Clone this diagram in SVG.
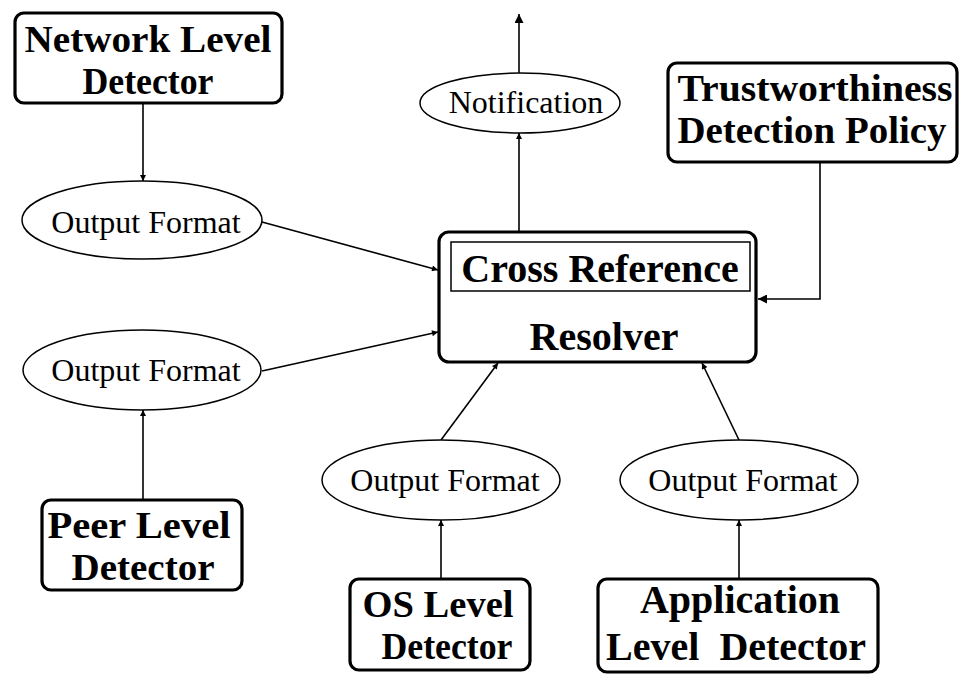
<svg xmlns="http://www.w3.org/2000/svg" width="959" height="675" viewBox="0 0 959 675">
<defs>
<style>
.box{fill:#fff;stroke:#000;stroke-width:3.2}
.inner{fill:none;stroke:#000;stroke-width:1.5}
.ell{fill:#fff;stroke:#000;stroke-width:1.5}
.bt{font-family:"Liberation Serif","Times New Roman",serif;font-weight:bold;font-size:40px;text-anchor:middle;fill:#000}
.bs{font-size:37px}
.et{font-family:"Liberation Serif","Times New Roman",serif;font-size:32px;text-anchor:middle;fill:#000}
.ln{fill:none;stroke:#000;stroke-width:1.6}
</style>
<marker id="a" viewBox="0 0 10 10" refX="10" refY="5" markerWidth="7" markerHeight="6" markerUnits="userSpaceOnUse" orient="auto"><path d="M0,0L10,5L0,10z" fill="#000"/></marker>
<marker id="b" viewBox="0 0 10 10" refX="10" refY="5" markerWidth="14" markerHeight="9" markerUnits="userSpaceOnUse" orient="auto"><path d="M0,0L10,5L0,10z" fill="#000"/></marker>
</defs>
<rect width="959" height="675" fill="#fff"/>
<g id="connectors">
<line class="ln" x1="143" y1="103" x2="143" y2="181" marker-end="url(#a)"/>
<line class="ln" x1="262" y1="222" x2="438" y2="270" marker-end="url(#a)"/>
<line class="ln" x1="262" y1="371" x2="438" y2="332" marker-end="url(#a)"/>
<line class="ln" x1="143" y1="500" x2="143" y2="410" marker-end="url(#a)"/>
<line class="ln" x1="519" y1="232" x2="519" y2="133" marker-end="url(#a)"/>
<line class="ln" x1="519" y1="73" x2="519" y2="14" marker-end="url(#b)"/>
<polyline class="ln" points="820,162 820,299 758,299" marker-end="url(#b)"/>
<line class="ln" x1="441" y1="440" x2="498" y2="363" marker-end="url(#a)"/>
<line class="ln" x1="441" y1="579" x2="441" y2="520" marker-end="url(#a)"/>
<line class="ln" x1="739" y1="440" x2="702" y2="363" marker-end="url(#a)"/>
<line class="ln" x1="739" y1="579" x2="739" y2="520" marker-end="url(#a)"/>
</g>
<g id="network">
<rect class="box" x="15" y="13" width="267" height="90" rx="9"/>
<text class="bt bs" x="148" y="52" textLength="247" lengthAdjust="spacingAndGlyphs">Network Level</text>
<text class="bt bs" x="148" y="94" textLength="131" lengthAdjust="spacingAndGlyphs">Detector</text>
</g>
<g id="of1">
<ellipse class="ell" cx="142" cy="220" rx="120" ry="39"/>
<text class="et" x="146" y="233">Output Format</text>
</g>
<g id="of2">
<ellipse class="ell" cx="142" cy="370" rx="119" ry="40"/>
<text class="et" x="146" y="381">Output Format</text>
</g>
<g id="peer">
<rect class="box" x="42" y="500" width="200" height="90" rx="9"/>
<text class="bt bs" x="139" y="538" textLength="183" lengthAdjust="spacingAndGlyphs">Peer Level</text>
<text class="bt bs" x="143" y="580" textLength="143" lengthAdjust="spacingAndGlyphs">Detector</text>
</g>
<g id="notification">
<ellipse class="ell" cx="520" cy="103" rx="100" ry="30"/>
<text class="et" x="526" y="113">Notification</text>
</g>
<g id="trust">
<rect class="box" x="668" y="63" width="289" height="99" rx="9"/>
<text class="bt bs" x="815" y="101" textLength="275" lengthAdjust="spacingAndGlyphs">Trustworthiness</text>
<text class="bt bs" x="812" y="143" textLength="269" lengthAdjust="spacingAndGlyphs">Detection Policy</text>
</g>
<g id="resolver">
<rect class="box" x="439" y="232" width="317" height="130" rx="10"/>
<rect class="inner" x="451" y="242" width="299" height="49"/>
<text class="bt" x="600" y="282">Cross Reference</text>
<text class="bt" x="604" y="350">Resolver</text>
</g>
<g id="of3">
<ellipse class="ell" cx="441" cy="480" rx="119" ry="40"/>
<text class="et" x="445" y="491">Output Format</text>
</g>
<g id="os">
<rect class="box" x="350" y="579" width="180" height="91" rx="9"/>
<text class="bt bs" x="438" y="617" textLength="151" lengthAdjust="spacingAndGlyphs">OS Level</text>
<text class="bt bs" x="447" y="659" textLength="131" lengthAdjust="spacingAndGlyphs">Detector</text>
</g>
<g id="of4">
<ellipse class="ell" cx="739" cy="480" rx="119" ry="40"/>
<text class="et" x="743" y="491">Output Format</text>
</g>
<g id="app">
<rect class="box" x="598" y="579" width="280" height="93" rx="9"/>
<text class="bt" x="740" y="613">Application</text>
<text class="bt" x="736" y="660" style="white-space:pre">Level  Detector</text>
</g>
</svg>
